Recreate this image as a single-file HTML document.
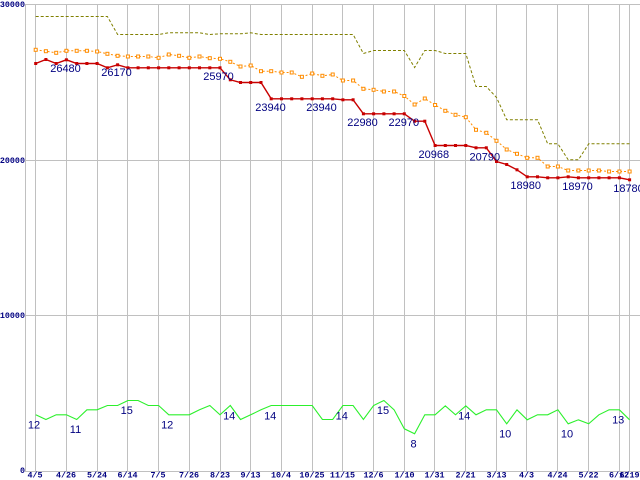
<!DOCTYPE html>
<html><head><meta charset="utf-8"><style>
html,body{margin:0;padding:0;background:#fff;}
svg{display:block;}
.t{font-family:"Liberation Mono",monospace;font-size:8.4px;font-weight:bold;fill:#000080;}
.d{font-family:"Liberation Sans",sans-serif;font-size:11px;fill:#000080;text-anchor:middle;}
</style></head><body>
<svg width="640" height="480" viewBox="0 0 640 480" xmlns="http://www.w3.org/2000/svg">
<rect width="640" height="480" fill="#fff"/>
<g stroke="#c0c0c0" stroke-width="1" fill="none">
<line x1="25.5" y1="4" x2="25.5" y2="472"/>
<line x1="25" y1="4.5" x2="640" y2="4.5"/>
<line x1="25" y1="160.5" x2="640" y2="160.5"/>
<line x1="25" y1="315.5" x2="640" y2="315.5"/>
<line x1="25" y1="471.5" x2="640" y2="471.5"/>
<path d="M35.5 4V472M66.5 4V472M97.5 4V472M127.5 4V472M158.5 4V472M189.5 4V472M220.5 4V472M250.5 4V472M281.5 4V472M312.5 4V472M342.5 4V472M373.5 4V472M404.5 4V472M434.5 4V472M465.5 4V472M496.5 4V472M526.5 4V472M557.5 4V472M588.5 4V472M619.5 4V472M629.5 4V472"/>
</g>
<g class="t" text-anchor="end">
<text x="25" y="7">30000</text>
<text x="25" y="163">20000</text>
<text x="25" y="318">10000</text>
<text x="25" y="473">0</text>
</g>
<g class="t" text-anchor="middle">
<text x="35" y="477.5">4/5</text>
<text x="66" y="477.5">4/26</text>
<text x="97" y="477.5">5/24</text>
<text x="127.5" y="477.5">6/14</text>
<text x="158" y="477.5">7/5</text>
<text x="189" y="477.5">7/26</text>
<text x="220" y="477.5">8/23</text>
<text x="250.5" y="477.5">9/13</text>
<text x="281" y="477.5">10/4</text>
<text x="312" y="477.5">10/25</text>
<text x="342.5" y="477.5">11/15</text>
<text x="373.5" y="477.5">12/6</text>
<text x="404.5" y="477.5">1/10</text>
<text x="434.5" y="477.5">1/31</text>
<text x="465.5" y="477.5">2/21</text>
<text x="496.5" y="477.5">3/13</text>
<text x="526.5" y="477.5">4/3</text>
<text x="557.5" y="477.5">4/24</text>
<text x="588.5" y="477.5">5/22</text>
<text x="619" y="477.5">6/12</text>
<text x="629.5" y="477.5">6/19</text>
</g>

<!-- olive dashed -->
<polyline fill="none" stroke="#808000" stroke-width="1" stroke-dasharray="3,2" points="35.7,16.5 45.9,16.5 56.2,16.5 66.4,16.5 76.7,16.5 86.9,16.5 97.1,16.5 107.4,16.5 117.6,34.5 127.9,34.5 138.1,34.5 148.3,34.5 158.6,34.5 168.8,32.8 179.1,32.8 189.3,32.8 199.5,32.8 209.8,34.5 220.0,33.8 230.3,33.8 240.5,33.8 250.7,32.8 261.0,34.5 271.2,34.5 281.5,34.5 291.7,34.5 301.9,34.5 312.2,34.5 322.4,34.5 332.7,34.5 342.9,34.5 353.1,34.5 363.4,53.5 373.6,50.5 383.9,50.5 394.1,50.5 404.3,50.5 414.6,67.5 424.8,50.5 435.1,50.5 445.3,53.5 455.5,53.5 465.8,53.5 476.0,86.5 486.3,86.5 496.5,97.5 506.7,119.8 517.0,119.8 527.2,119.8 537.5,119.8 547.7,143.8 557.9,143.8 568.2,159.8 578.4,159.8 588.7,143.8 598.9,143.8 609.1,143.8 619.4,143.8 629.6,143.8"/>

<!-- orange dotted -->
<polyline fill="none" stroke="#ff8c00" stroke-width="1" stroke-dasharray="2,2" points="35.7,49.8 45.9,51.2 56.2,52.8 66.4,50.8 76.7,50.8 86.9,50.8 97.1,51.5 107.4,53.8 117.6,55.8 127.9,56.5 138.1,56.5 148.3,56.5 158.6,57.8 168.8,54.5 179.1,55.8 189.3,57.8 199.5,56.5 209.8,58.2 220.0,58.8 230.3,61.8 240.5,66.5 250.7,65.5 261.0,71.2 271.2,71.2 281.5,72.5 291.7,72.5 301.9,76.8 312.2,73.5 322.4,75.8 332.7,74.5 342.9,80.5 353.1,80.5 363.4,88.8 373.6,89.8 383.9,91.5 394.1,91.5 404.3,96.0 414.6,104.5 424.8,98.5 435.1,105.0 445.3,110.8 455.5,114.8 465.8,117.2 476.0,129.8 486.3,132.8 496.5,140.8 506.7,149.5 517.0,153.8 527.2,157.8 537.5,157.8 547.7,166.5 557.9,166.5 568.2,170.5 578.4,170.5 588.7,170.5 598.9,170.5 609.1,171.5 619.4,171.5 629.6,171.5"/>
<g fill="#fff" stroke="#ff8c00" stroke-width="1">
<rect x="34.2" y="48.3" width="3" height="3"/><rect x="44.4" y="49.7" width="3" height="3"/><rect x="54.7" y="51.3" width="3" height="3"/><rect x="64.9" y="49.3" width="3" height="3"/><rect x="75.2" y="49.3" width="3" height="3"/><rect x="85.4" y="49.3" width="3" height="3"/><rect x="95.6" y="50" width="3" height="3"/><rect x="105.9" y="52.3" width="3" height="3"/><rect x="116.1" y="54.3" width="3" height="3"/><rect x="126.4" y="55" width="3" height="3"/><rect x="136.6" y="55" width="3" height="3"/><rect x="146.8" y="55" width="3" height="3"/><rect x="157.1" y="56.3" width="3" height="3"/><rect x="167.3" y="53" width="3" height="3"/><rect x="177.6" y="54.3" width="3" height="3"/><rect x="187.8" y="56.3" width="3" height="3"/><rect x="198" y="55" width="3" height="3"/><rect x="208.3" y="56.7" width="3" height="3"/><rect x="218.5" y="57.3" width="3" height="3"/><rect x="228.8" y="60.3" width="3" height="3"/><rect x="239" y="65" width="3" height="3"/><rect x="249.2" y="64" width="3" height="3"/><rect x="259.5" y="69.7" width="3" height="3"/><rect x="269.7" y="69.7" width="3" height="3"/><rect x="280" y="71" width="3" height="3"/><rect x="290.2" y="71" width="3" height="3"/><rect x="300.4" y="75.3" width="3" height="3"/><rect x="310.7" y="72" width="3" height="3"/><rect x="320.9" y="74.3" width="3" height="3"/><rect x="331.2" y="73" width="3" height="3"/><rect x="341.4" y="79" width="3" height="3"/><rect x="351.6" y="79" width="3" height="3"/><rect x="361.9" y="87.3" width="3" height="3"/><rect x="372.1" y="88.3" width="3" height="3"/><rect x="382.4" y="90" width="3" height="3"/><rect x="392.6" y="90" width="3" height="3"/><rect x="402.8" y="94.5" width="3" height="3"/><rect x="413.1" y="103" width="3" height="3"/><rect x="423.3" y="97" width="3" height="3"/><rect x="433.6" y="103.5" width="3" height="3"/><rect x="443.8" y="109.3" width="3" height="3"/><rect x="454" y="113.3" width="3" height="3"/><rect x="464.3" y="115.7" width="3" height="3"/><rect x="474.5" y="128.3" width="3" height="3"/><rect x="484.8" y="131.3" width="3" height="3"/><rect x="495" y="139.3" width="3" height="3"/><rect x="505.2" y="148" width="3" height="3"/><rect x="515.5" y="152.3" width="3" height="3"/><rect x="525.7" y="156.3" width="3" height="3"/><rect x="536" y="156.3" width="3" height="3"/><rect x="546.2" y="165" width="3" height="3"/><rect x="556.4" y="165" width="3" height="3"/><rect x="566.7" y="169" width="3" height="3"/><rect x="576.9" y="169" width="3" height="3"/><rect x="587.2" y="169" width="3" height="3"/><rect x="597.4" y="169" width="3" height="3"/><rect x="607.6" y="170" width="3" height="3"/><rect x="617.9" y="170" width="3" height="3"/><rect x="628.1" y="170" width="3" height="3"/>
</g>

<!-- red solid -->
<polyline fill="none" stroke="#c80000" stroke-width="1.4" points="35.7,63.5 45.9,59.5 56.2,63.5 66.4,59.8 76.7,63.5 86.9,63.5 97.1,63.5 107.4,67.8 117.6,64.8 127.9,67.8 138.1,67.8 148.3,67.8 158.6,67.8 168.8,67.8 179.1,67.8 189.3,67.8 199.5,67.8 209.8,67.8 220.0,67.8 230.3,79.8 240.5,82.5 250.7,82.5 261.0,82.5 271.2,98.8 281.5,98.8 291.7,98.8 301.9,98.8 312.2,98.8 322.4,98.8 332.7,98.8 342.9,99.8 353.1,99.8 363.4,113.8 373.6,113.8 383.9,113.8 394.1,113.8 404.3,113.8 414.6,121.2 424.8,121.2 435.1,145.5 445.3,145.5 455.5,145.5 465.8,145.5 476.0,147.8 486.3,147.8 496.5,161.5 506.7,164.5 517.0,169.8 527.2,176.8 537.5,176.8 547.7,177.8 557.9,177.8 568.2,176.8 578.4,177.8 588.7,177.8 598.9,177.8 609.1,177.8 619.4,177.8 629.6,179.8"/>
<g fill="#c80000">
<rect x="34.2" y="62" width="3" height="3"/><rect x="44.4" y="58" width="3" height="3"/><rect x="54.7" y="62" width="3" height="3"/><rect x="64.9" y="58.3" width="3" height="3"/><rect x="75.2" y="62" width="3" height="3"/><rect x="85.4" y="62" width="3" height="3"/><rect x="95.6" y="62" width="3" height="3"/><rect x="105.9" y="66.3" width="3" height="3"/><rect x="116.1" y="63.3" width="3" height="3"/><rect x="126.4" y="66.3" width="3" height="3"/><rect x="136.6" y="66.3" width="3" height="3"/><rect x="146.8" y="66.3" width="3" height="3"/><rect x="157.1" y="66.3" width="3" height="3"/><rect x="167.3" y="66.3" width="3" height="3"/><rect x="177.6" y="66.3" width="3" height="3"/><rect x="187.8" y="66.3" width="3" height="3"/><rect x="198" y="66.3" width="3" height="3"/><rect x="208.3" y="66.3" width="3" height="3"/><rect x="218.5" y="66.3" width="3" height="3"/><rect x="228.8" y="78.3" width="3" height="3"/><rect x="239" y="81" width="3" height="3"/><rect x="249.2" y="81" width="3" height="3"/><rect x="259.5" y="81" width="3" height="3"/><rect x="269.7" y="97.3" width="3" height="3"/><rect x="280" y="97.3" width="3" height="3"/><rect x="290.2" y="97.3" width="3" height="3"/><rect x="300.4" y="97.3" width="3" height="3"/><rect x="310.7" y="97.3" width="3" height="3"/><rect x="320.9" y="97.3" width="3" height="3"/><rect x="331.2" y="97.3" width="3" height="3"/><rect x="341.4" y="98.3" width="3" height="3"/><rect x="351.6" y="98.3" width="3" height="3"/><rect x="361.9" y="112.3" width="3" height="3"/><rect x="372.1" y="112.3" width="3" height="3"/><rect x="382.4" y="112.3" width="3" height="3"/><rect x="392.6" y="112.3" width="3" height="3"/><rect x="402.8" y="112.3" width="3" height="3"/><rect x="413.1" y="119.7" width="3" height="3"/><rect x="423.3" y="119.7" width="3" height="3"/><rect x="433.6" y="144" width="3" height="3"/><rect x="443.8" y="144" width="3" height="3"/><rect x="454" y="144" width="3" height="3"/><rect x="464.3" y="144" width="3" height="3"/><rect x="474.5" y="146.3" width="3" height="3"/><rect x="484.8" y="146.3" width="3" height="3"/><rect x="495" y="160" width="3" height="3"/><rect x="505.2" y="163" width="3" height="3"/><rect x="515.5" y="168.3" width="3" height="3"/><rect x="525.7" y="175.3" width="3" height="3"/><rect x="536" y="175.3" width="3" height="3"/><rect x="546.2" y="176.3" width="3" height="3"/><rect x="556.4" y="176.3" width="3" height="3"/><rect x="566.7" y="175.3" width="3" height="3"/><rect x="576.9" y="176.3" width="3" height="3"/><rect x="587.2" y="176.3" width="3" height="3"/><rect x="597.4" y="176.3" width="3" height="3"/><rect x="607.6" y="176.3" width="3" height="3"/><rect x="617.9" y="176.3" width="3" height="3"/><rect x="628.1" y="178.3" width="3" height="3"/>
</g>

<!-- green -->
<polyline fill="none" stroke="#2cf02c" stroke-width="1.1" points="35.7,414.8 45.9,419.5 56.2,414.8 66.4,414.8 76.7,419.5 86.9,409.8 97.1,409.8 107.4,405.5 117.6,405.5 127.9,400.5 138.1,400.5 148.3,405.5 158.6,405.5 168.8,414.8 179.1,414.8 189.3,414.8 199.5,409.8 209.8,405.5 220.0,414.8 230.3,405.5 240.5,419.5 250.7,414.8 261.0,409.8 271.2,405.5 281.5,405.5 291.7,405.5 301.9,405.5 312.2,405.5 322.4,419.5 332.7,419.5 342.9,405.5 353.1,405.5 363.4,419.5 373.6,405.5 383.9,400.5 394.1,409.8 404.3,428.8 414.6,433.8 424.8,414.8 435.1,414.8 445.3,405.8 455.5,414.8 465.8,405.8 476.0,414.8 486.3,409.8 496.5,409.8 506.7,423.8 517.0,409.8 527.2,419.8 537.5,414.8 547.7,414.8 557.9,409.8 568.2,423.8 578.4,419.8 588.7,423.8 598.9,414.8 609.1,409.8 619.4,409.8 629.6,419.8"/>

<!-- data labels -->
<g class="d">
<text x="65.5" y="71.8">26480</text>
<text x="116.5" y="76">26170</text>
<text x="218.5" y="80">25970</text>
<text x="270.5" y="111">23940</text>
<text x="321.5" y="111">23940</text>
<text x="362.5" y="125.8">22980</text>
<text x="403.8" y="125.8">22970</text>
<text x="433.8" y="157.8">20968</text>
<text x="484.8" y="160.5">20790</text>
<text x="525.7" y="189">18980</text>
<text x="577.5" y="189.8">18970</text>
<text x="628.5" y="191.8">18780</text>

<text x="34" y="428.5">12</text>
<text x="75.5" y="432.8">11</text>
<text x="126.8" y="414.2">15</text>
<text x="167.2" y="428.5">12</text>
<text x="229.2" y="419.3">14</text>
<text x="270.2" y="419.3">14</text>
<text x="341.8" y="419.3">14</text>
<text x="383" y="414.2">15</text>
<text x="413.6" y="447.5">8</text>
<text x="464.2" y="419.5">14</text>
<text x="505.2" y="437.5">10</text>
<text x="567" y="437.5">10</text>
<text x="618.2" y="423.5">13</text>
</g>
</svg>
</body></html>
